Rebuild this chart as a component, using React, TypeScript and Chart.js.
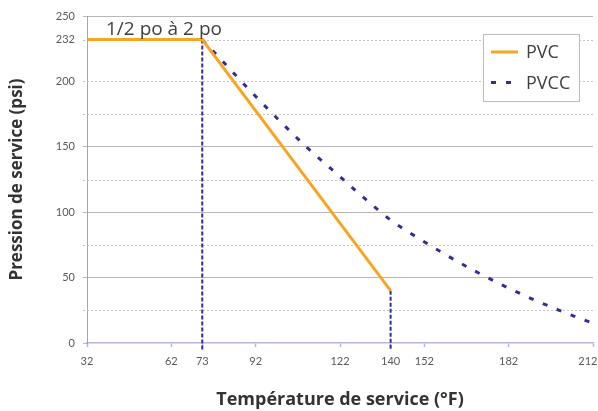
import React, { useEffect, useRef } from "react";
import { Chart, registerables } from "chart.js";

Chart.register(...registerables);

// ---- data ----
const xTickValues = [32, 62, 73, 92, 122, 140, 152, 182, 212];
const yTickValues = [0, 50, 100, 150, 200, 232, 250];
const ySolidGrid = [50, 100, 150, 250];
const yDashedGrid = [25, 75, 125, 175, 200, 232];

const seriesNames = ["PVC", "PVCC"];
const pvcTemps = [32, 73, 140];
const pvcPressures = [232, 232, 40];
const pvccTemps = [73, 80, 90, 100, 110, 120, 130, 140, 150, 160, 170, 180, 190, 200, 212];
const pvccPressures = [232, 216, 193, 171, 150, 131, 112, 94, 80, 67, 55, 44, 34, 25, 15];

const guideTemps = [73, 140];
const guideTops = [232, 40];
const guideBottom = -6;

const rangeLabel = "1/2 po à 2 po";
const xTitle = "Température de service (°F)";
const yTitle = "Pression de service (psi)";

// ---- style ----
const FONT = "'Open Sans', Lato, sans-serif";
const TICK_FONT = "Lato, 'Open Sans', sans-serif";
const ORANGE = "#f6a623";
const NAVY = "#2f2f96";
const GRID = "#b8b8b8";
const DASH_GRID = "#c6c6c6";
const LAVENDER = "#b6b6df";
const TEXT = "#404040";

const dashedGridPlugin = {
  id: "dashedGrid",
  beforeDatasetsDraw(chart: any) {
    const { ctx, chartArea } = chart;
    const y = chart.scales.y;
    ctx.save();
    ctx.strokeStyle = DASH_GRID;
    ctx.lineWidth = 1;
    ctx.setLineDash([2, 2]);
    for (const v of yDashedGrid) {
      const py = Math.round(y.getPixelForValue(v)) + 0.5;
      ctx.beginPath();
      ctx.moveTo(chartArea.left - 4, py);
      ctx.lineTo(chartArea.right, py);
      ctx.stroke();
    }
    ctx.restore();
  },
};

// keep x tick labels inside the canvas (last label hugs the right edge)
const clampLabelsPlugin = {
  id: "clampLabels",
  beforeDraw(chart: any) {
    const s = chart.scales.x;
    const items = s.getLabelItems();
    const { ctx } = chart;
    ctx.save();
    ctx.font = `11px ${TICK_FONT}`;
    for (const it of items) {
      const w = ctx.measureText(String(it.label)).width;
      const maxX = chart.width - w / 2 - 0.5;
      if (it.options.translation[0] > maxX) it.options.translation[0] = maxX;
    }
    ctx.restore();
  },
};

const rangeLabelPlugin = {
  id: "rangeLabel",
  afterDatasetsDraw(chart: any) {
    const { ctx } = chart;
    const x = chart.scales.x.getPixelForValue(pvcTemps[0]) + 19;
    const y = chart.scales.y.getPixelForValue(pvcPressures[0]) - 5;
    ctx.save();
    ctx.font = `19px ${FONT}`;
    ctx.fillStyle = TEXT;
    ctx.textAlign = "left";
    ctx.textBaseline = "alphabetic";
    ctx.fillText(rangeLabel, x, y);
    ctx.restore();
  },
};

const boxLegendPlugin = {
  id: "boxLegend",
  afterDraw(chart: any) {
    const { ctx, chartArea } = chart;
    const left = chartArea.right - 110;
    const top = chartArea.top + 18;
    const w = 96;
    const h = 67;
    ctx.save();
    ctx.fillStyle = "#ffffff";
    ctx.fillRect(left, top, w, h);
    ctx.strokeStyle = "#bdbdbd";
    ctx.lineWidth = 1;
    ctx.strokeRect(Math.round(left) + 0.5, Math.round(top) + 0.5, w, h);
    const rows = chart.data.datasets.filter((d: any) => seriesNames.includes(d.label));
    rows.forEach((d: any, i: number) => {
      const cy = top + 18 + i * 30.5;
      ctx.beginPath();
      ctx.strokeStyle = d.borderColor;
      ctx.lineWidth = d.borderWidth;
      ctx.setLineDash(d.borderDash || []);
      ctx.moveTo(left + 8, cy);
      ctx.lineTo(left + 35, cy);
      ctx.stroke();
      ctx.setLineDash([]);
      ctx.font = `18px ${FONT}`;
      ctx.fillStyle = TEXT;
      ctx.textAlign = "left";
      ctx.textBaseline = "middle";
      ctx.fillText(d.label, left + 43, cy + 1);
    });
    ctx.restore();
  },
};

export default function App() {
  const ref = useRef<HTMLCanvasElement | null>(null);

  useEffect(() => {
    document.body.style.margin = "0";
    if (!ref.current) return;

    const guideSets = guideTemps.map((t, i) => ({
      label: "guide" + i,
      data: [
        { x: t, y: guideTops[i] },
        { x: t, y: guideBottom },
      ],
      borderColor: NAVY,
      borderWidth: 2,
      borderDash: [4, 2],
      pointRadius: 0,
      clip: false as any,
      borderCapStyle: "butt" as const,
    }));

    const chart = new Chart(ref.current, {
      type: "line",
      data: {
        datasets: [
          {
            label: seriesNames[0],
            data: pvcTemps.map((t, i) => ({ x: t, y: pvcPressures[i] })),
            borderColor: ORANGE,
            borderWidth: 3,
            pointRadius: 0,
            tension: 0,
          },
          {
            label: seriesNames[1],
            data: pvccTemps.map((t, i) => ({ x: t, y: pvccPressures[i] })),
            borderColor: NAVY,
            borderWidth: 3,
            borderDash: [5, 10],
            pointRadius: 0,
            cubicInterpolationMode: "monotone",
          },
          ...guideSets,
        ] as any,
      },
      options: {
        animation: false,
        responsive: false,
        maintainAspectRatio: false,
        layout: { padding: { top: 16, right: 5, left: 0, bottom: 0 } },
        plugins: {
          legend: { display: false },
          tooltip: { enabled: false },
        },
        scales: {
          x: {
            type: "linear",
            min: 32,
            max: 212,
            afterBuildTicks: (s: any) => {
              s.ticks = xTickValues.map((v) => ({ value: v }));
            },
            afterFit: (s: any) => {
              s.height = 68;
              s.paddingRight = 5;
            },
            ticks: {
              autoSkip: false,
              maxRotation: 0,
              padding: 8,
              color: "#595959",
              font: { family: TICK_FONT, size: 11 },
              callback: (v: any) => String(v),
            },
            grid: {
              drawOnChartArea: false,
              drawTicks: true,
              tickLength: 4,
              tickColor: LAVENDER,
              tickWidth: 1.5,
            },
            border: { display: true, color: LAVENDER, width: 1.5 },
            title: {
              display: true,
              text: xTitle,
              color: "#333333",
              font: { family: FONT, size: 18, weight: "bold" },
              padding: { top: 0, bottom: 0 },
            },
          },
          y: {
            type: "linear",
            min: 0,
            max: 250,
            afterBuildTicks: (s: any) => {
              s.ticks = yTickValues.map((v) => ({ value: v }));
            },
            afterFit: (s: any) => {
              s.width = 87;
            },
            ticks: {
              autoSkip: false,
              padding: 8,
              color: "#595959",
              font: { family: TICK_FONT, size: 11 },
              callback: (v: any) => String(v),
            },
            grid: {
              color: (c: any) => (ySolidGrid.includes(c.tick?.value) ? GRID : "rgba(0,0,0,0)"),
              tickColor: (c: any) =>
                ySolidGrid.includes(c.tick?.value) || c.tick?.value === 0 ? GRID : "rgba(0,0,0,0)",
              lineWidth: 1,
              tickLength: 4,
              drawTicks: true,
            },
            border: { display: true, color: "#a6a6a6", width: 1 },
            title: {
              display: true,
              text: yTitle,
              color: "#333333",
              font: { family: FONT, size: 17, weight: "bold" },
              padding: { top: 7, bottom: 0 },
            },
          },
        },
      },
      plugins: [dashedGridPlugin, clampLabelsPlugin, rangeLabelPlugin, boxLegendPlugin],
    });

    return () => chart.destroy();
  }, []);

  return (
    <div style={{ width: 598, height: 411 }}>
      <canvas ref={ref} width={598} height={411} style={{ display: "block" }} />
    </div>
  );
}
